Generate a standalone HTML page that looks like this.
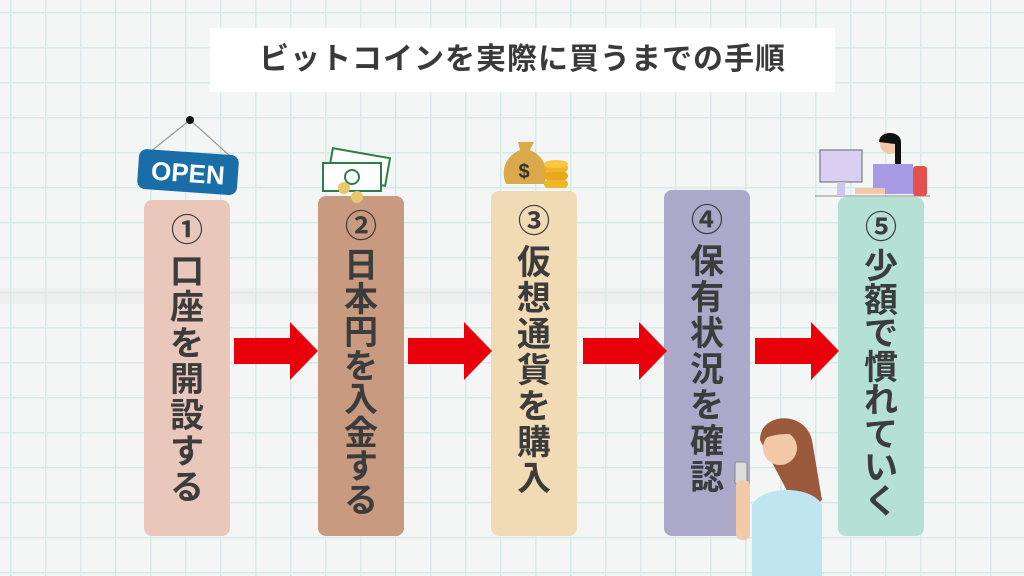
<!DOCTYPE html>
<html><head><meta charset="utf-8"><style>
body{margin:0;width:1024px;height:576px;overflow:hidden;position:relative;font-family:"Liberation Sans","Noto Sans CJK JP",sans-serif;
background-color:#f4f6f5;
background-image:linear-gradient(#d6eaea 1.5px,transparent 1.5px),linear-gradient(90deg,#d6eaea 1.5px,transparent 1.5px);
background-size:35px 35px;background-position:10px 12px;}
.title{position:absolute;left:210px;top:28px;width:625px;height:64px;background:#fff;text-align:center;line-height:64px;font-size:30px;font-weight:bold;color:#3a3a3a;letter-spacing:1px}
.col{position:absolute;width:86px;bottom:40px;border-radius:8px;display:flex;flex-direction:column;align-items:center;font-weight:bold;color:#3c3c3c;font-size:34px}
.col span{display:block;height:36px;line-height:36px}
.col.s span{height:33.5px;line-height:33.5px}
.col .n{font-size:32px;margin-top:12px;margin-bottom:6px}
.col.s .n{height:36px;line-height:36px}
.arr{position:absolute;top:322px;width:84px;height:58px}
</style></head><body>
<div style="position:absolute;left:0;top:288px;width:1024px;height:16px;background:rgba(225,228,228,0.35)"></div>
<div class="title">ビットコインを実際に買うまでの手順</div>

<div class="col" style="left:144px;top:200px;background:#e9c8bb"><span class="n">①</span><span>口</span><span>座</span><span>を</span><span>開</span><span>設</span><span>す</span><span>る</span></div>
<div class="col s" style="left:318px;top:196px;background:#c89a80"><span class="n">②</span><span>日</span><span>本</span><span>円</span><span>を</span><span>入</span><span>金</span><span>す</span><span>る</span></div>
<div class="col" style="left:491px;top:191px;background:#f1dbb4"><span class="n">③</span><span>仮</span><span>想</span><span>通</span><span>貨</span><span>を</span><span>購</span><span>入</span></div>
<div class="col" style="left:664px;top:190px;background:#aba8c9"><span class="n">④</span><span>保</span><span>有</span><span>状</span><span>況</span><span>を</span><span>確</span><span>認</span></div>
<div class="col s" style="left:838px;top:197px;background:#b4e1d4"><span class="n">⑤</span><span>少</span><span>額</span><span>で</span><span>慣</span><span>れ</span><span>て</span><span>い</span><span>く</span></div>

<svg class="arr" style="left:234px" viewBox="0 0 84 58"><path d="M0 16H56V0L84 29L56 58V42H0Z" fill="#e8000b"/></svg>
<svg class="arr" style="left:408px" viewBox="0 0 84 58"><path d="M0 16H56V0L84 29L56 58V42H0Z" fill="#e8000b"/></svg>
<svg class="arr" style="left:583px" viewBox="0 0 84 58"><path d="M0 16H56V0L84 29L56 58V42H0Z" fill="#e8000b"/></svg>
<svg class="arr" style="left:755px" viewBox="0 0 84 58"><path d="M0 16H56V0L84 29L56 58V42H0Z" fill="#e8000b"/></svg>

<svg style="position:absolute;left:130px;top:112px" width="115" height="88" viewBox="0 0 115 88">
<line x1="60" y1="8" x2="20" y2="40" stroke="#999" stroke-width="1.2"/><line x1="60" y1="8" x2="100" y2="44" stroke="#999" stroke-width="1.2"/>
<circle cx="60" cy="8" r="4" fill="#111"/>
<g transform="rotate(4 57 60)"><rect x="8" y="40" width="100" height="40" rx="8" fill="#1a6ea8"/>
<text x="58" y="70" text-anchor="middle" font-family="Liberation Sans" font-weight="bold" font-size="26" fill="#fff">OPEN</text></g>
</svg>
<svg style="position:absolute;left:320px;top:145px" width="75" height="60" viewBox="0 0 75 60">
<rect x="10" y="8" width="58" height="28" fill="#fff" stroke="#2e7d4a" stroke-width="2" transform="rotate(10 39 22)"/>
<rect x="3" y="18" width="58" height="28" fill="#fff" stroke="#2e7d4a" stroke-width="2"/>
<circle cx="32" cy="32" r="7" fill="none" stroke="#2e7d4a" stroke-width="2"/>
<circle cx="24" cy="43" r="6" fill="#e8c86a"/><circle cx="37" cy="52" r="6" fill="#e8c86a"/>
</svg>
<svg style="position:absolute;left:500px;top:130px" width="75" height="65" viewBox="0 0 75 65">
<path d="M18 12h16l-4 8c14 6 20 20 14 34H6C0 40 6 26 20 20z" fill="#d9a94a"/>
<text x="24" y="48" text-anchor="middle" font-size="20" font-weight="bold" fill="#333">$</text>
<rect x="44" y="34" width="24" height="8" rx="4" fill="#f0b628"/><rect x="44" y="42" width="24" height="8" rx="4" fill="#e8a820"/><rect x="44" y="50" width="24" height="8" rx="4" fill="#f0b628"/><ellipse cx="56" cy="34" rx="12" ry="4" fill="#f5c842"/>
</svg>
<svg style="position:absolute;left:815px;top:128px" width="115" height="70" viewBox="0 0 115 70">
<line x1="0" y1="68" x2="115" y2="68" stroke="#888"/>
<rect x="5" y="22" width="42" height="32" fill="#d8cff2" stroke="#666"/><rect x="22" y="54" width="8" height="14" fill="#cfc6ee"/>
<rect x="98" y="38" width="14" height="30" rx="3" fill="#e45050"/>
<circle cx="75" cy="16" r="10" fill="#f1c9a8"/><path d="M64 14c0-12 22-12 22 0v30h-6V16z" fill="#111"/>
<path d="M58 36h40v30H58z" fill="#a79be6"/><rect x="40" y="60" width="30" height="6" fill="#f1c9a8"/>
</svg>
<svg style="position:absolute;left:730px;top:410px" width="105" height="166" viewBox="0 0 105 166">
<path d="M30 30c0-28 45-30 52 0l10 60c-10 10-25 10-30 0z" fill="#9c5a3c"/>
<circle cx="50" cy="38" r="17" fill="#f3c9a8"/>
<path d="M30 30c5-20 40-22 48 0c-10-8-30-8-48 0z" fill="#9c5a3c"/>
<path d="M22 95c10-20 60-20 70 0v71H22z" fill="#bfe6ee"/>
<rect x="5" y="52" width="12" height="22" rx="2" fill="#ddd" stroke="#888"/>
<rect x="6" y="70" width="14" height="60" rx="6" fill="#f3c9a8"/>
</svg>
</body></html>
